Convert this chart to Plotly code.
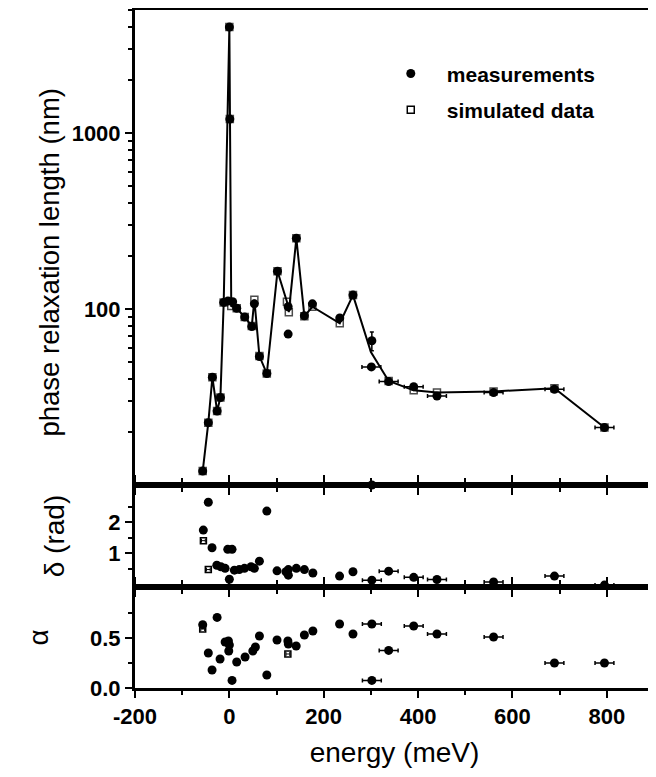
import plotly.graph_objects as go

# top panel: phase relaxation length (nm)
meas_E = [-56.5, -44.6, -36, -26, -19, -12, -3, 0, 1, 7, 15.6, 32.6, 47.5, 53, 63.7, 79.4,
          102, 124.6, 124.6, 142, 159, 176, 234, 262, 302, 301, 337.6, 390.7, 440, 560, 689, 795]
meas_L = [12, 22.6, 41, 26.3, 31.4, 109, 111, 4000, 1200, 110, 101, 90, 79.6, 107, 53.7, 43,
          164, 103, 72, 252, 91.6, 107, 89, 120, 66, 46.9, 38.7, 36.2, 32, 33.5, 35, 21.2]
meas_Lxerr = [0]*24 + [0, 20, 20, 20, 20, 20, 20, 20]
meas_Lyerr = [0]*24 + [8, 0, 0, 0, 0, 0, 0, 0]

sim_E = [-56.5, -44.6, -36, -26, -19, -12, 0, 1, 4, 15.6, 32.6, 47.5, 53, 63.7, 79.4, 102,
         122, 126, 142, 159, 176, 234, 262, 300, 337.6, 390.7, 440, 560, 689, 795]
sim_L = [12, 22.6, 41, 26.3, 31.4, 109, 4000, 1200, 104, 101, 90, 80, 113, 54, 43, 164,
         110, 96, 252, 91, 103, 83, 120, 57, 39, 34.5, 33.5, 34, 35.5, 21.2]
sim_shown = [1]*23 + [0] + [1]*6

# middle panel: delta (rad)
delta_E = [-55.2, -44.6, -36.7, -26.6, -18, -9, -3.4, 0, 5.7, 10.6, 21, 32, 46, 53, 63.7, 79.4,
           101, 120, 125, 125, 142, 159, 177, 233.6, 262, 302, 302, 337.6, 390.7, 440, 560, 689, 795]
delta = [1.75, 2.645, 1.18, 0.62, 0.57, 0.52, 1.13, 0.17, 1.13, 0.46, 0.48, 0.52, 0.57, 0.52, 0.75, 2.36,
         0.44, 0.41, 0.48, 0.3, 0.52, 0.48, 0.37, 0.27, 0.41, 0.14, 3.2, 0.43, 0.23, 0.16, 0.08, 0.27, -0.02]
delta_xerr = [0]*25 + [20, 20, 20, 20, 20, 20, 20, 20]
sim_delta_E = [-55, -44.6]
sim_delta = [1.41, 0.48]

# bottom panel: alpha
alpha_E = [-56.5, -44.6, -36.7, -26, -19.7, -9, -2, 0, -1.3, 5.7, 15.6, 33.3, 49.7, 55.2, 63.7,
           79.4, 101, 124, 125, 141.6, 159, 177, 233.6, 262, 302, 302, 337.6, 390.7, 440, 560, 689, 795]
alpha = [0.633, 0.35, 0.18, 0.706, 0.29, 0.46, 0.47, 0.43, 0.37, 0.076, 0.26, 0.31, 0.37, 0.41, 0.52,
         0.13, 0.48, 0.47, 0.44, 0.42, 0.53, 0.57, 0.64, 0.54, 0.64, 0.076, 0.376, 0.62, 0.54, 0.51, 0.25, 0.25]
alpha_xerr = [0]*24 + [20, 20, 20, 20, 20, 20, 20, 20]
sim_alpha_E = [-56.5, 124]
sim_alpha = [0.59, 0.34]

energy_ticks = [-200, 0, 200, 400, 600, 800]
energy_labels = ["-200", "0", "200", "400", "600", "800"]

black = "black"
circ = dict(symbol="circle", size=9, color=black)
sq = dict(symbol="square-open", size=7, color=black, line=dict(width=1.5, color=black))
sq_small = dict(symbol="square-open", size=6, color=black, line=dict(width=1.5, color=black))

fig = go.Figure()

# top
fig.add_trace(go.Scatter(x=sim_E, y=sim_L, mode="lines+markers",
                         marker=dict(sq, size=[7 * s for s in sim_shown]),
                         line=dict(color=black, width=2), showlegend=False,
                         xaxis="x", yaxis="y"))
fig.add_trace(go.Scatter(x=meas_E, y=meas_L, mode="markers", marker=circ, name="measurements",
                         legendgroup="m",
                         error_x=dict(type="data", array=meas_Lxerr, color=black, thickness=1.5, width=2),
                         error_y=dict(type="data", array=meas_Lyerr, color=black, thickness=1.5, width=2),
                         xaxis="x", yaxis="y"))
fig.add_trace(go.Scatter(x=[None], y=[None], mode="markers", marker=sq, name="simulated data",
                         legendgroup="s", xaxis="x", yaxis="y"))

# middle
fig.add_trace(go.Scatter(x=sim_delta_E, y=sim_delta, mode="markers", marker=sq_small, showlegend=False,
                         error_x=dict(type="data", array=[4, 4], color=black, thickness=1, width=2),
                         xaxis="x2", yaxis="y2"))
fig.add_trace(go.Scatter(x=delta_E, y=delta, mode="markers", marker=circ, showlegend=False,
                         cliponaxis=False,
                         error_x=dict(type="data", array=delta_xerr, color=black, thickness=1.5, width=2),
                         xaxis="x2", yaxis="y2"))

# bottom
fig.add_trace(go.Scatter(x=sim_alpha_E, y=sim_alpha, mode="markers", marker=sq_small, showlegend=False,
                         error_x=dict(type="data", array=[4, 4], color=black, thickness=1, width=2),
                         xaxis="x3", yaxis="y3"))
fig.add_trace(go.Scatter(x=alpha_E, y=alpha, mode="markers", marker=circ, showlegend=False,
                         cliponaxis=False,
                         error_x=dict(type="data", array=alpha_xerr, color=black, thickness=1.5, width=2),
                         xaxis="x3", yaxis="y3"))

tickfont = dict(family="Liberation Sans", size=22, color=black, weight="bold")
titlefont = dict(family="Liberation Sans", size=28, color=black)

common = dict(showline=True, linewidth=3, linecolor=black, mirror="ticks", ticks="outside",
              ticklen=7, tickwidth=2, tickcolor=black, showgrid=False, zeroline=False,
              tickfont=tickfont, automargin=False)

xcommon = dict(common, range=[-200, 900], tickvals=energy_ticks, ticktext=energy_labels,
               minor=dict(dtick=100, tick0=0, ticks="outside", ticklen=4, tickwidth=2, tickcolor=black))

# page body adds an 8px offset, margins compensate for it
fig.update_layout(
    width=656, height=777,
    margin=dict(l=127, r=10, t=2, b=97),
    plot_bgcolor="white", paper_bgcolor="white",
    xaxis=dict(xcommon, anchor="y", showticklabels=False, matches="x3"),
    xaxis2=dict(xcommon, anchor="y2", showticklabels=False, matches="x3"),
    xaxis3=dict(xcommon, anchor="y3",
                title=dict(text="energy (meV)", font=titlefont, standoff=14)),
    yaxis=dict(common, type="log", domain=[0.2994, 1], range=[1, 3.699],
               tickvals=[100, 1000], ticktext=["100", "1000"],
               minor=dict(tickvals=[20, 30, 40, 50, 60, 70, 80, 90, 200, 300, 400, 500, 600, 700,
                                    800, 900, 2000, 3000, 4000, 5000],
                          ticks="outside", ticklen=4, tickwidth=2, tickcolor=black)),
    yaxis2=dict(common, domain=[0.149, 0.2994], range=[-0.08, 3.2],
                tickvals=[1, 2],
                minor=dict(tickvals=[0.5, 1.5, 2.5], ticks="outside", ticklen=4, tickwidth=2,
                           tickcolor=black),
                title=dict(text="δ (rad)", font=titlefont, standoff=36)),
    yaxis3=dict(common, domain=[0, 0.149], range=[0, 1.01],
                tickvals=[0, 0.5], ticktext=["0.0", "0.5"],
                minor=dict(tickvals=[0.25, 0.75], ticks="outside", ticklen=4, tickwidth=2,
                           tickcolor=black),
                title=dict(text="α", font=titlefont, standoff=34)),
    legend=dict(x=0.462, y=0.936, xanchor="left", yanchor="top", bgcolor="rgba(0,0,0,0)",
                font=dict(family="Liberation Sans", size=21, color=black, weight="bold"),
                itemwidth=62, tracegroupgap=6),
    annotations=[dict(text="phase relaxation length (nm)", textangle=-90,
                      xref="paper", yref="paper", x=-0.165, y=0.628,
                      xanchor="center", yanchor="middle", showarrow=False,
                      font=dict(family="Liberation Sans", size=27.5, color=black))],
)

fig.write_html("out.html")
